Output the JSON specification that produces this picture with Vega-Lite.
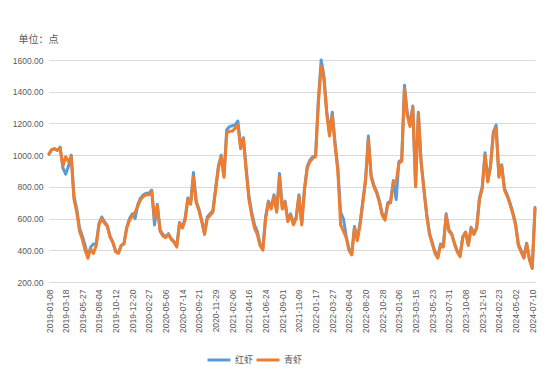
{
  "$schema": "https://vega.github.io/schema/vega-lite/v6.json",
  "width": 486,
  "height": 222,
  "autosize": {"type": "none"},
  "padding": {"left": 49, "top": 60, "right": 19, "bottom": 107},
  "background": "white",
  "config": {"view": {"stroke": null}},
  "data": {"values": [
{"date":"2019-01-08","红虾":1005,"青虾":1010},
{"date":"2019-01-20","红虾":1035,"青虾":1035},
{"date":"2019-01-31","红虾":1040,"青虾":1040},
{"date":"2019-02-12","红虾":1030,"青虾":1030},
{"date":"2019-02-23","红虾":1050,"青虾":1045},
{"date":"2019-03-07","红虾":920,"青虾":930},
{"date":"2019-03-18","红虾":880,"青虾":990},
{"date":"2019-03-30","红虾":930,"青虾":960},
{"date":"2019-04-10","红虾":1000,"青虾":990},
{"date":"2019-04-22","红虾":740,"青虾":720},
{"date":"2019-05-03","红虾":660,"青虾":640},
{"date":"2019-05-15","红虾":540,"青虾":520},
{"date":"2019-05-27","红虾":490,"青虾":470},
{"date":"2019-06-08","红虾":430,"青虾":400},
{"date":"2019-06-19","红虾":360,"青虾":350},
{"date":"2019-07-01","红虾":420,"青虾":410},
{"date":"2019-07-12","红虾":440,"青虾":380},
{"date":"2019-07-24","红虾":440,"青虾":430},
{"date":"2019-08-04","红虾":570,"青虾":560},
{"date":"2019-08-16","红虾":610,"青虾":600},
{"date":"2019-08-27","红虾":580,"青虾":570},
{"date":"2019-09-08","红虾":555,"青虾":550},
{"date":"2019-09-19","红虾":490,"青虾":480},
{"date":"2019-10-01","红虾":450,"青虾":450},
{"date":"2019-10-12","红虾":395,"青虾":390},
{"date":"2019-10-24","红虾":385,"青虾":380},
{"date":"2019-11-04","红虾":430,"青虾":430},
{"date":"2019-11-16","红虾":445,"青虾":440},
{"date":"2019-11-27","红虾":545,"青虾":540},
{"date":"2019-12-09","红虾":600,"青虾":590},
{"date":"2019-12-20","红虾":630,"青虾":620},
{"date":"2020-01-01","红虾":600,"青虾":640},
{"date":"2020-01-12","红虾":690,"青虾":680},
{"date":"2020-01-24","红虾":730,"青虾":720},
{"date":"2020-02-04","红虾":750,"青虾":740},
{"date":"2020-02-16","红虾":760,"青虾":750},
{"date":"2020-02-27","红虾":760,"青虾":750},
{"date":"2020-03-10","红虾":780,"青虾":770},
{"date":"2020-03-21","红虾":560,"青虾":600},
{"date":"2020-04-02","红虾":690,"青虾":680},
{"date":"2020-04-13","红虾":530,"青虾":520},
{"date":"2020-04-25","红虾":500,"青虾":490},
{"date":"2020-05-06","红虾":485,"青虾":480},
{"date":"2020-05-18","红虾":505,"青虾":500},
{"date":"2020-05-29","红虾":475,"青虾":470},
{"date":"2020-06-10","红虾":455,"青虾":450},
{"date":"2020-06-21","红虾":425,"青虾":420},
{"date":"2020-07-03","红虾":575,"青虾":570},
{"date":"2020-07-14","红虾":545,"青虾":540},
{"date":"2020-07-26","红虾":600,"青虾":590},
{"date":"2020-08-06","红虾":730,"青虾":720},
{"date":"2020-08-18","红虾":700,"青虾":690},
{"date":"2020-08-29","红虾":890,"青虾":860},
{"date":"2020-09-10","红虾":710,"青虾":700},
{"date":"2020-09-21","红虾":660,"青虾":650},
{"date":"2020-10-03","红虾":590,"青虾":580},
{"date":"2020-10-14","红虾":510,"青虾":500},
{"date":"2020-10-26","红虾":610,"青虾":600},
{"date":"2020-11-06","红虾":630,"青虾":620},
{"date":"2020-11-18","红虾":650,"青虾":640},
{"date":"2020-11-29","红虾":790,"青虾":780},
{"date":"2020-12-11","红虾":930,"青虾":920},
{"date":"2020-12-22","红虾":1000,"青虾":990},
{"date":"2021-01-03","红虾":870,"青虾":860},
{"date":"2021-01-14","红虾":1160,"青虾":1140},
{"date":"2021-01-26","红虾":1180,"青虾":1150},
{"date":"2021-02-06","红虾":1185,"青虾":1150},
{"date":"2021-02-18","红虾":1190,"青虾":1170},
{"date":"2021-03-01","红虾":1215,"青虾":1190},
{"date":"2021-03-13","红虾":1060,"青虾":1040},
{"date":"2021-03-24","红虾":1110,"青虾":1100},
{"date":"2021-04-05","红虾":920,"青虾":900},
{"date":"2021-04-16","红虾":740,"青虾":720},
{"date":"2021-04-28","红虾":640,"青虾":620},
{"date":"2021-05-09","红虾":560,"青虾":540},
{"date":"2021-05-21","红虾":520,"青虾":500},
{"date":"2021-06-01","红虾":440,"青虾":430},
{"date":"2021-06-13","红虾":410,"青虾":400},
{"date":"2021-06-24","红虾":610,"青虾":600},
{"date":"2021-07-06","红虾":710,"青虾":700},
{"date":"2021-07-17","红虾":670,"青虾":660},
{"date":"2021-07-29","红虾":750,"青虾":740},
{"date":"2021-08-09","红虾":650,"青虾":640},
{"date":"2021-08-21","红虾":885,"青虾":860},
{"date":"2021-09-01","红虾":670,"青虾":660},
{"date":"2021-09-13","红虾":710,"青虾":700},
{"date":"2021-09-24","红虾":590,"青虾":580},
{"date":"2021-10-06","红虾":630,"青虾":620},
{"date":"2021-10-17","红虾":570,"青虾":560},
{"date":"2021-10-29","红虾":610,"青虾":600},
{"date":"2021-11-09","红虾":750,"青虾":740},
{"date":"2021-11-21","红虾":570,"青虾":560},
{"date":"2021-12-02","红虾":790,"青虾":780},
{"date":"2021-12-14","红虾":930,"青虾":920},
{"date":"2021-12-25","红虾":970,"青虾":960},
{"date":"2022-01-06","红虾":990,"青虾":980},
{"date":"2022-01-17","红虾":1000,"青虾":990},
{"date":"2022-01-29","红虾":1350,"青虾":1330},
{"date":"2022-02-09","红虾":1600,"青虾":1560},
{"date":"2022-02-21","红虾":1500,"青虾":1480},
{"date":"2022-03-04","红虾":1280,"青虾":1260},
{"date":"2022-03-16","红虾":1140,"青虾":1120},
{"date":"2022-03-27","红虾":1270,"青虾":1250},
{"date":"2022-04-08","红虾":1080,"青虾":1060},
{"date":"2022-04-19","红虾":920,"青虾":900},
{"date":"2022-05-01","红虾":640,"青虾":560},
{"date":"2022-05-12","红虾":600,"青虾":520},
{"date":"2022-05-24","红虾":490,"青虾":480},
{"date":"2022-06-04","红虾":410,"青虾":400},
{"date":"2022-06-17","红虾":380,"青虾":370},
{"date":"2022-06-30","红虾":550,"青虾":540},
{"date":"2022-07-13","红虾":470,"青虾":460},
{"date":"2022-07-25","红虾":570,"青虾":560},
{"date":"2022-08-07","红虾":710,"青虾":700},
{"date":"2022-08-20","红虾":850,"青虾":840},
{"date":"2022-09-01","红虾":1120,"青虾":1100},
{"date":"2022-09-12","红虾":870,"青虾":860},
{"date":"2022-09-24","红虾":810,"青虾":800},
{"date":"2022-10-05","红虾":770,"青虾":760},
{"date":"2022-10-17","红虾":710,"青虾":700},
{"date":"2022-10-28","红虾":630,"青虾":620},
{"date":"2022-11-09","红虾":600,"青虾":590},
{"date":"2022-11-20","红虾":700,"青虾":690},
{"date":"2022-12-02","红虾":710,"青虾":700},
{"date":"2022-12-13","红虾":840,"青虾":830},
{"date":"2022-12-25","红虾":720,"青虾":830},
{"date":"2023-01-06","红虾":960,"青虾":950},
{"date":"2023-01-18","红虾":970,"青虾":960},
{"date":"2023-01-29","红虾":1440,"青虾":1420},
{"date":"2023-02-10","红虾":1270,"青虾":1250},
{"date":"2023-02-21","红虾":1190,"青虾":1180},
{"date":"2023-03-05","红虾":1310,"青虾":1300},
{"date":"2023-03-15","红虾":810,"青虾":800},
{"date":"2023-03-27","红虾":1270,"青虾":1260},
{"date":"2023-04-07","红虾":960,"青虾":950},
{"date":"2023-04-19","红虾":790,"青虾":780},
{"date":"2023-04-30","红虾":630,"青虾":620},
{"date":"2023-05-12","红虾":510,"青虾":500},
{"date":"2023-05-23","红虾":450,"青虾":440},
{"date":"2023-06-04","红虾":390,"青虾":380},
{"date":"2023-06-15","红虾":360,"青虾":350},
{"date":"2023-06-27","红虾":440,"青虾":430},
{"date":"2023-07-08","红虾":430,"青虾":420},
{"date":"2023-07-20","红虾":630,"青虾":620},
{"date":"2023-07-31","红虾":530,"青虾":520},
{"date":"2023-08-12","红虾":505,"青虾":500},
{"date":"2023-08-23","红虾":445,"青虾":440},
{"date":"2023-09-04","红虾":395,"青虾":390},
{"date":"2023-09-15","红虾":365,"青虾":360},
{"date":"2023-09-27","红虾":485,"青虾":480},
{"date":"2023-10-08","红虾":515,"青虾":510},
{"date":"2023-10-20","红虾":435,"青虾":430},
{"date":"2023-10-31","红虾":545,"青虾":540},
{"date":"2023-11-12","红虾":505,"青虾":500},
{"date":"2023-11-23","红虾":545,"青虾":540},
{"date":"2023-12-05","红虾":730,"青虾":720},
{"date":"2023-12-16","红虾":800,"青虾":790},
{"date":"2023-12-28","红虾":1015,"青虾":1000},
{"date":"2024-01-08","红虾":840,"青虾":830},
{"date":"2024-01-20","红虾":940,"青虾":930},
{"date":"2024-01-31","红虾":1145,"青虾":1130},
{"date":"2024-02-12","红虾":1190,"青虾":1170},
{"date":"2024-02-23","红虾":870,"青虾":860},
{"date":"2024-03-06","红虾":940,"青虾":930},
{"date":"2024-03-17","红虾":790,"青虾":780},
{"date":"2024-03-29","红虾":750,"青虾":740},
{"date":"2024-04-09","红虾":700,"青虾":690},
{"date":"2024-04-21","红虾":640,"青虾":630},
{"date":"2024-05-02","红虾":570,"青虾":560},
{"date":"2024-05-14","红虾":440,"青虾":430},
{"date":"2024-05-25","红虾":400,"青虾":390},
{"date":"2024-06-06","红虾":355,"青虾":350},
{"date":"2024-06-17","红虾":445,"青虾":440},
{"date":"2024-06-29","红虾":345,"青虾":340},
{"date":"2024-07-10","红虾":290,"青虾":285},
{"date":"2024-07-22","红虾":670,"青虾":660}
  ]},
  "transform": [{"fold": ["红虾", "青虾"], "as": ["series", "value"]}],
  "mark": {"type": "line", "strokeWidth": 3, "strokeJoin": "round", "strokeCap": "round"},
  "encoding": {
    "x": {
      "field": "date", "type": "ordinal",
      "scale": {"type": "point", "padding": 0},
      "axis": {
        "values": ["2019-01-08","2019-03-18","2019-05-27","2019-08-04","2019-10-12","2019-12-20","2020-02-27","2020-05-06","2020-07-14","2020-09-21","2020-11-29","2021-02-06","2021-04-16","2021-06-24","2021-09-01","2021-11-09","2022-01-17","2022-03-27","2022-06-04","2022-08-20","2022-10-28","2023-01-06","2023-03-15","2023-05-23","2023-07-31","2023-10-08","2023-12-16","2024-02-23","2024-05-02","2024-07-10"],
        "title": null, "labelAngle": -90, "labelOverlap": false, "labelBound": false,
        "labelFont": "Liberation Sans", "labelFontSize": 8.5, "labelColor": "#595959",
        "labelPadding": 7, "ticks": false, "domain": true, "domainColor": "#d9d9d9", "grid": false
      }
    },
    "y": {
      "field": "value", "type": "quantitative",
      "scale": {"domain": [200, 1600], "nice": false, "zero": false},
      "axis": {
        "values": [200, 400, 600, 800, 1000, 1200, 1400, 1600], "format": ".2f",
        "title": "单位：点", "titleAngle": 0, "titleX": -31, "titleY": -21,
        "titleAlign": "left", "titleBaseline": "middle", "titleFont": "Noto Sans CJK SC",
        "titleFontSize": 10, "titleFontWeight": "normal", "titleColor": "#595959",
        "labelFont": "Liberation Sans", "labelFontSize": 8.5, "labelColor": "#595959",
        "labelPadding": 6, "ticks": false, "domain": false,
        "grid": true, "gridColor": "#d9d9d9", "gridWidth": 1
      }
    },
    "color": {
      "field": "series", "type": "nominal",
      "scale": {"domain": ["红虾", "青虾"], "range": ["#5B9BD5", "#ED7D31"]},
      "legend": {
        "title": null, "orient": "none", "direction": "horizontal",
        "legendX": 157, "legendY": 287,
        "symbolType": "stroke", "symbolSize": 529, "symbolStrokeWidth": 3,
        "labelFont": "Noto Sans CJK SC", "labelFontSize": 9, "labelColor": "#595959",
        "labelOffset": 3, "columnPadding": -4
      }
    }
  }
}
